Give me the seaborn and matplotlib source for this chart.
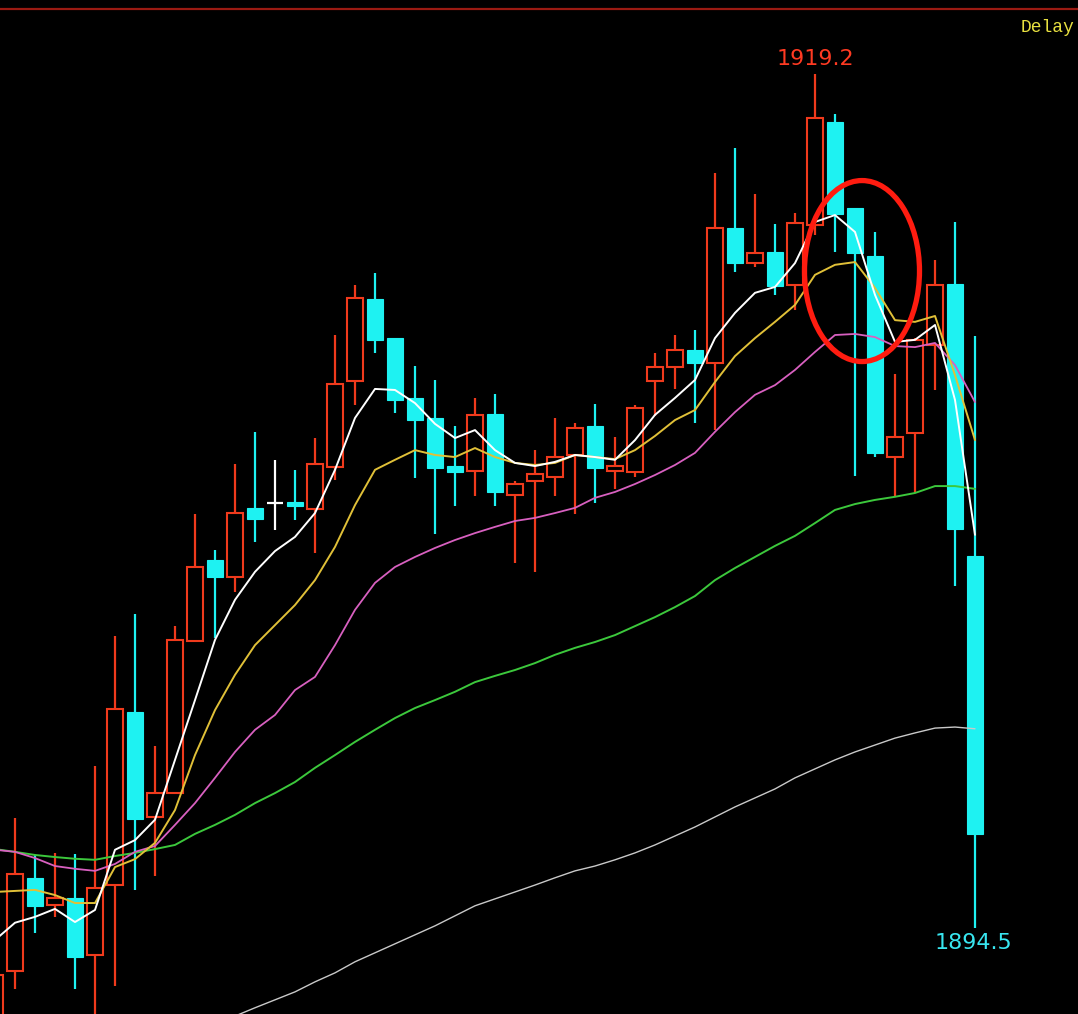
import numpy as np
import pandas as pd
import matplotlib
matplotlib.use("Agg")
import matplotlib.pyplot as plt
from matplotlib.patches import Ellipse
import seaborn as sns

# ---------------- data ----------------
idx = list(range(50))
opens = [1891.50, 1893.26, 1895.95, 1895.16, 1895.37, 1893.72, 1895.74, 1900.75, 1897.71, 1898.40,
         1902.80, 1905.14, 1904.65, 1906.65, 1906.79, 1906.82, 1906.62, 1907.83, 1910.32, 1912.69,
         1911.56, 1909.83, 1909.25, 1907.86, 1907.72, 1909.37, 1907.02, 1907.43, 1907.54, 1908.18,
         1909.02, 1907.72, 1907.69, 1910.32, 1910.73, 1911.22, 1910.84, 1914.75, 1913.73, 1914.05,
         1913.10, 1914.83, 1917.81, 1915.32, 1913.94, 1908.12, 1908.82, 1911.36, 1913.13, 1905.26]
closes = [1893.14, 1896.06, 1895.14, 1895.37, 1893.66, 1895.66, 1900.83, 1897.65, 1898.40, 1902.83,
          1904.94, 1904.65, 1906.50, 1906.33, 1906.79, 1906.71, 1907.92, 1910.23, 1912.72, 1911.51,
          1909.77, 1909.19, 1907.80, 1907.69, 1909.34, 1907.11, 1907.34, 1907.63, 1908.12, 1908.96,
          1907.80, 1907.86, 1909.54, 1910.73, 1911.22, 1910.84, 1914.75, 1913.73, 1914.02, 1913.07,
          1914.89, 1917.93, 1915.15, 1914.02, 1908.24, 1908.70, 1911.51, 1913.10, 1906.04, 1897.22]
highs = [1893.14, 1897.68, 1896.61, 1896.67, 1896.64, 1899.19, 1902.95, 1903.58, 1899.76, 1903.23,
         1906.47, 1905.43, 1907.92, 1908.85, 1908.04, 1907.75, 1908.67, 1911.65, 1913.10, 1913.44,
         1911.56, 1910.75, 1910.35, 1909.02, 1909.83, 1909.94, 1907.43, 1908.33, 1909.25, 1909.11,
         1909.66, 1908.70, 1909.63, 1911.13, 1911.65, 1911.80, 1916.34, 1917.06, 1915.73, 1914.86,
         1915.18, 1919.20, 1918.04, 1915.32, 1914.63, 1910.52, 1911.55, 1913.82, 1914.92, 1911.62]
lows = [1891.50, 1892.74, 1894.36, 1894.82, 1892.74, 1891.80, 1892.82, 1895.60, 1896.00, 1898.40,
        1902.80, 1902.89, 1904.22, 1905.66, 1906.01, 1906.30, 1905.35, 1907.46, 1909.63, 1911.13,
        1909.40, 1907.52, 1905.90, 1906.71, 1906.99, 1906.71, 1905.06, 1904.80, 1906.99, 1906.47,
        1906.79, 1907.20, 1907.54, 1909.31, 1910.09, 1909.11, 1908.90, 1913.47, 1913.62, 1912.81,
        1912.37, 1914.54, 1914.05, 1907.57, 1908.12, 1906.97, 1907.08, 1910.06, 1904.39, 1894.50]

ma5 = [1894.15, 1894.65, 1894.82, 1895.05, 1894.67, 1895.02, 1896.76, 1897.04, 1897.63, 1899.36,
       1901.09, 1902.83, 1903.99, 1904.80, 1905.40, 1905.81, 1906.50, 1907.75, 1909.25, 1910.09,
       1910.06, 1909.68, 1909.08, 1908.67, 1908.90, 1908.32, 1907.95, 1907.86, 1907.98, 1908.18,
       1908.12, 1908.04, 1908.61, 1909.34, 1909.83, 1910.35, 1911.56, 1912.29, 1912.87, 1913.04,
       1913.73, 1914.92, 1915.12, 1914.63, 1912.81, 1911.45, 1911.51, 1911.94, 1909.77, 1905.87]
ma10 = [1895.54, 1895.57, 1895.60, 1895.45, 1895.22, 1895.22, 1896.26, 1896.49, 1896.96, 1897.91,
        1899.50, 1900.80, 1901.82, 1902.68, 1903.26, 1903.84, 1904.56, 1905.52, 1906.73, 1907.75,
        1908.04, 1908.32, 1908.18, 1908.12, 1908.38, 1908.12, 1907.95, 1907.89, 1907.95, 1908.18,
        1908.12, 1908.06, 1908.32, 1908.73, 1909.19, 1909.48, 1910.29, 1911.04, 1911.56, 1912.03,
        1912.52, 1913.39, 1913.68, 1913.76, 1913.01, 1912.08, 1912.03, 1912.20, 1910.49, 1908.61]
ma20 = [1896.76, 1896.70, 1896.52, 1896.29, 1896.21, 1896.15, 1896.35, 1896.70, 1896.87, 1897.48,
        1898.11, 1898.84, 1899.59, 1900.23, 1900.66, 1901.38, 1901.76, 1902.68, 1903.70, 1904.48,
        1904.94, 1905.23, 1905.49, 1905.72, 1905.92, 1906.10, 1906.27, 1906.36, 1906.50, 1906.65,
        1906.94, 1907.11, 1907.34, 1907.60, 1907.89, 1908.24, 1908.85, 1909.42, 1909.92, 1910.20,
        1910.64, 1911.16, 1911.65, 1911.68, 1911.59, 1911.33, 1911.30, 1911.42, 1910.78, 1909.71]
ma60 = [1896.78, 1896.70, 1896.61, 1896.55, 1896.50, 1896.47, 1896.58, 1896.67, 1896.78, 1896.90,
        1897.22, 1897.48, 1897.77, 1898.11, 1898.40, 1898.72, 1899.13, 1899.50, 1899.88, 1900.23,
        1900.57, 1900.86, 1901.09, 1901.33, 1901.61, 1901.79, 1901.96, 1902.16, 1902.40, 1902.60,
        1902.77, 1902.97, 1903.23, 1903.49, 1903.78, 1904.10, 1904.56, 1904.91, 1905.23, 1905.55,
        1905.84, 1906.21, 1906.59, 1906.76, 1906.88, 1906.97, 1907.08, 1907.28, 1907.28, 1907.20]
ma120_idx = list(range(12, 50))
ma120 = [1891.95, 1892.19, 1892.42, 1892.65, 1892.94, 1893.20, 1893.52, 1893.78, 1894.04, 1894.30,
         1894.56, 1894.85, 1895.14, 1895.34, 1895.54, 1895.74, 1895.95, 1896.15, 1896.29, 1896.47,
         1896.67, 1896.90, 1897.16, 1897.42, 1897.71, 1898.00, 1898.26, 1898.52, 1898.84, 1899.10,
         1899.36, 1899.59, 1899.79, 1899.99, 1900.14, 1900.28, 1900.31, 1900.26]

high_label = "1919.2"
low_label = "1894.5"
corner_label = "Delay"

# ---------------- styling ----------------
sns.set_style("dark", rc={"axes.facecolor": "black", "figure.facecolor": "black"})
plt.rcParams['font.family'] = ['DejaVu Sans']

RED = "#f03a1c"
CYAN = "#1ef2f2"

fig = plt.figure(figsize=(10.78, 10.14), dpi=100)
fig.patch.set_facecolor("black")
ax = fig.add_axes([0, 0, 1, 1])
ax.set_facecolor("black")

df = pd.DataFrame({"i": idx, "open": opens, "close": closes, "high": highs, "low": lows,
                   "ma5": ma5, "ma10": ma10, "ma20": ma20, "ma60": ma60})
df["color"] = np.where(df["close"] > df["open"], RED,
                       np.where(df["close"] < df["open"], CYAN, "white"))

# wicks
ax.vlines(df["i"], df["low"], df["high"], colors=df["color"], linewidth=1.6, zorder=1)

# bodies
W = 0.82
up = df[df["close"] > df["open"]]
dn = df[df["close"] < df["open"]]
eq = df[df["close"] == df["open"]]
ax.bar(up["i"], up["close"] - up["open"], bottom=up["open"], width=W,
       facecolor="black", edgecolor=RED, linewidth=1.5, zorder=2)
ax.bar(dn["i"], dn["open"] - dn["close"], bottom=dn["close"], width=W,
       facecolor=CYAN, edgecolor=CYAN, linewidth=0.8, zorder=2)
ax.hlines(eq["open"], eq["i"] - W / 2, eq["i"] + W / 2, colors="white", linewidth=1.6, zorder=2)

# moving averages
sns.lineplot(data=pd.DataFrame({"i": ma120_idx, "v": ma120}), x="i", y="v", ax=ax,
             color="#c9c9c9", linewidth=1.0, zorder=3)
sns.lineplot(data=df, x="i", y="ma60", ax=ax, color="#3cc83c", linewidth=1.4, zorder=3)
sns.lineplot(data=df, x="i", y="ma20", ax=ax, color="#d860c0", linewidth=1.3, zorder=3)
sns.lineplot(data=df, x="i", y="ma10", ax=ax, color="#e0c038", linewidth=1.4, zorder=3)
sns.lineplot(data=df, x="i", y="ma5", ax=ax, color="white", linewidth=1.4, zorder=4)

# annotation ellipse
ax.add_patch(Ellipse((43.35, 1913.50), width=5.75, height=5.235, fill=False,
                     edgecolor="#ff1c10", linewidth=3.8, zorder=5))

# labels for extremes
ax.text(41, 1919.63, high_label, color="#ff3a22", fontsize=16, ha="center", va="center", zorder=6)
ax.text(48.9, 1894.07, low_label, color="#38e6f0", fontsize=16, ha="center", va="center", zorder=6)

# frame line and corner text
ax.plot([0, 1], [1 - 9 / 1014, 1 - 9 / 1014], transform=ax.transAxes, color="#9a1a12",
        linewidth=1.6, zorder=6, clip_on=False)
fig.text(1021 / 1078, 1 - 28 / 1014, corner_label, color="#e8e040", fontsize=13,
         family="Liberation Mono", ha="left", va="center")

ax.set_xlim(0.25, 54.15)
ax.set_ylim(1892.01, 1921.34)
ax.set_xlabel("")
ax.set_ylabel("")
ax.set_xticks([])
ax.set_yticks([])
for s in ax.spines.values():
    s.set_visible(False)

fig.savefig("out.png", dpi=100, facecolor="black")
